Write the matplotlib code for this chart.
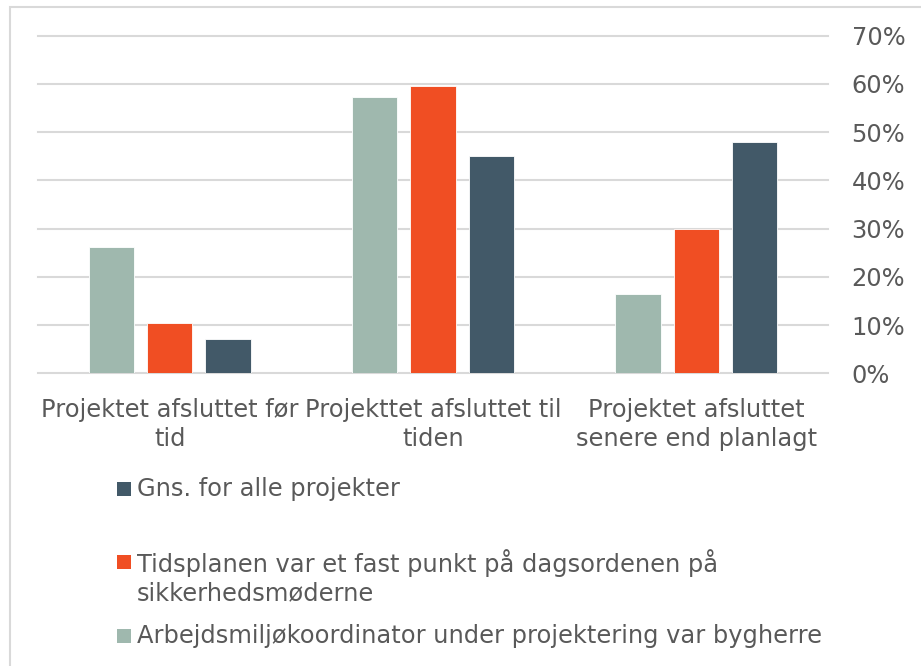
import numpy as np
import matplotlib
matplotlib.use('Agg')
from matplotlib import pyplot as plt
from matplotlib.patches import Rectangle

categories = ['Projektet afsluttet før\ntid', 'Projekttet afsluttet til\ntiden', 'Projektet afsluttet\nsenere end planlagt']
series_names = ['Arbejdsmiljøkoordinator under projektering var bygherre',
                'Tidsplanen var et fast punkt på dagsordenen på\nsikkerhedsmøderne',
                'Gns. for alle projekter']
arbejdsmiljo = [26.1, 57.2, 16.4]
tidsplan = [10.4, 59.6, 29.9]
gns = [7.1, 45.0, 47.9]
colors = ['#9FB8AE', '#F04E23', '#425968']
yticks = [0, 10, 20, 30, 40, 50, 60, 70]

txt = '#595959'
fs = 17.4

fig = plt.figure(figsize=(9.21, 6.66), dpi=100)
W, H = 921.0, 666.0
ax = fig.add_axes([38 / W, 1 - 373.3 / H, 790 / W, (373.3 - 35.7) / H])

x = np.arange(len(categories))
offsets = [-0.222, 0, 0.222]
for vals, off, c in zip([arbejdsmiljo, tidsplan, gns], offsets, colors):
  ax.bar(x + off, vals, width=0.172, color=c, edgecolor='white', linewidth=0.6, zorder=3)

ax.set_xlim(-0.5, 2.5)
ax.set_ylim(0, 70)
ax.set_yticks(yticks)
ax.set_yticklabels(['%d%%' % t for t in yticks])
ax.yaxis.tick_right()
ax.tick_params(axis='y', length=0, pad=17, labelsize=fs, labelcolor=txt)
ax.set_xticks(x)
ax.set_xticklabels(categories, linespacing=1.3)
ax.tick_params(axis='x', length=0, pad=17.5, labelsize=fs, labelcolor=txt)
ax.grid(axis='y', color='#D9D9D9', linewidth=1.5, zorder=0)
for gl in ax.get_ygridlines():
  gl.set_clip_on(False)
for s in ax.spines.values():
  s.set_visible(False)

# chart border (cropped on right/bottom)
fig.add_artist(Rectangle((9.5 / W, -0.1), 1.2, 1 - 6.5 / H + 0.1, transform=fig.transFigure,
                         fill=False, edgecolor='#D9D9D9', linewidth=1.5))

# legend, reversed order as in the reference
legend_rows = [(2, 489), (1, 562), (0, 636)]
for idx, ypix in legend_rows:
  fig.add_artist(Rectangle((117 / W, 1 - (ypix + 7) / H), 14 / W, 14 / H, transform=fig.transFigure,
                           facecolor=colors[idx], edgecolor='none'))
  if '\n' in series_names[idx]:
    fig.text(137 / W, 1 - (ypix - 13) / H, series_names[idx], fontsize=fs, color=txt,
             va='top', ha='left', linespacing=1.22)
  else:
    fig.text(137 / W, 1 - ypix / H, series_names[idx], fontsize=fs, color=txt,
             va='center', ha='left')

fig.savefig('out.png', dpi=100)
